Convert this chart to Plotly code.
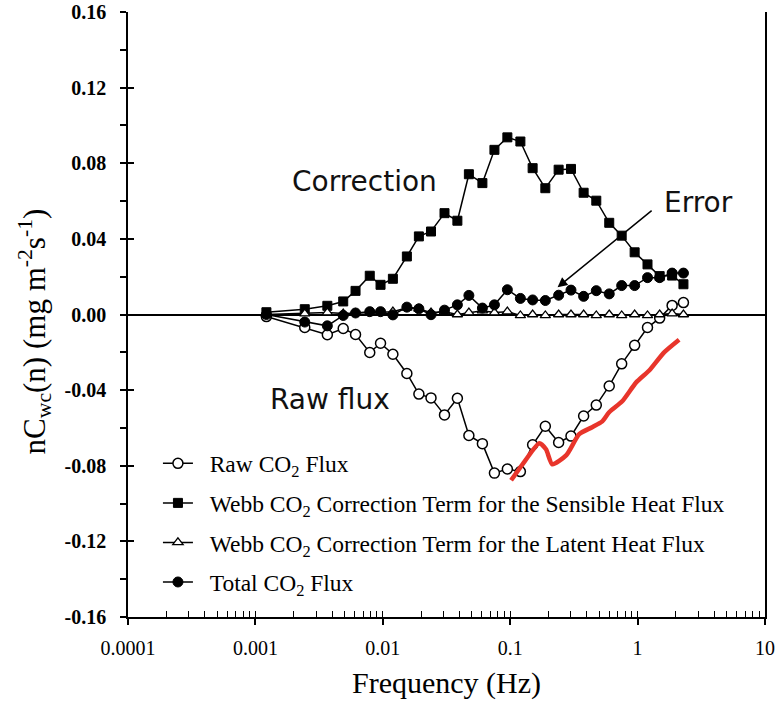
import plotly.graph_objects as go

# Frequency bins (Hz) shared by all four spectra
freq = [0.00122, 0.00244, 0.00367, 0.00489, 0.00611, 0.0079, 0.0096, 0.0120,
        0.01545, 0.0192, 0.0239, 0.0305, 0.0385, 0.0474, 0.0605, 0.0752,
        0.0950, 0.1202, 0.150, 0.1887, 0.240, 0.300, 0.377, 0.474,
        0.599, 0.750, 0.948, 1.196, 1.490, 1.866, 2.29]

# Frequency-weighted cospectra nCwc(n), mg m-2 s-1
raw_flux = [-0.0011, -0.0069, -0.0107, -0.0074, -0.0106, -0.0201, -0.0152, -0.0210,
            -0.0312, -0.0421, -0.0441, -0.0531, -0.0443, -0.0640, -0.0683, -0.0839,
            -0.0817, -0.0831, -0.0689, -0.0591, -0.0677, -0.0643, -0.0537, -0.0479,
            -0.0378, -0.0261, -0.0163, -0.0069, -0.0019, 0.0048, 0.0063]

webb_sensible = [0.0012, 0.0028, 0.0046, 0.0069, 0.0125, 0.0205, 0.0157, 0.0189,
                 0.0307, 0.0413, 0.0439, 0.0536, 0.0496, 0.0742, 0.0695, 0.0871,
                 0.0937, 0.0915, 0.0774, 0.0668, 0.0766, 0.0770, 0.0644, 0.0602,
                 0.0485, 0.0417, 0.0329, 0.0265, 0.0203, 0.0206, 0.0160]

webb_latent = [0.0000, 0.0005, 0.0010, 0.0005, 0.0008, 0.0010, 0.0012, 0.0015,
               0.0035, 0.0030, 0.0010, 0.0015, 0.0000, 0.0010, 0.0020, 0.0010,
               0.0015, -0.0005, 0.0000, -0.0005, 0.0000, 0.0000, 0.0000, -0.0005,
               0.0000, -0.0005, 0.0000, -0.0005, 0.0000, 0.0005, 0.0000]

total_flux = [0.0000, -0.0040, -0.0060, -0.0005, 0.0008, 0.0015, 0.0015, -0.0002,
              0.0039, 0.0030, -0.0001, 0.0023, 0.0051, 0.0101, 0.0034, 0.0051,
              0.0131, 0.0085, 0.0077, 0.0074, 0.0102, 0.0129, 0.0096, 0.0126,
              0.0109, 0.0153, 0.0153, 0.0195, 0.0195, 0.0219, 0.0219]

# Hand-drawn trend (red) under the raw flux at high frequency
red_freq = [0.1016, 0.1316, 0.1694, 0.191, 0.214, 0.276, 0.348, 0.440, 0.528,
            0.598, 0.757, 0.975, 1.233, 1.615, 2.117]
red_val = [-0.0877, -0.0771, -0.0681, -0.0713, -0.0792, -0.0744, -0.0633, -0.0596,
           -0.0565, -0.0517, -0.0459, -0.0359, -0.0296, -0.0200, -0.0133]

x_ticks = [0.0001, 0.001, 0.01, 0.1, 1, 10]
x_tick_text = ["0.0001", "0.001", "0.01", "0.1", "1", "10"]
y_major = [-0.16, -0.12, -0.08, -0.04, 0.0, 0.04, 0.08, 0.12, 0.16]

SERIF = "Liberation Serif"
SANS = "DejaVu Sans"
PAD = "\u00a0\u00a0"  # gap between legend symbol and its label

fig = go.Figure()

line_style = dict(color="black", width=1.5)

fig.add_trace(go.Scatter(
    x=freq, y=raw_flux, mode="lines+markers", name=PAD + "Raw CO<sub>2</sub> Flux",
    line=line_style, legendgroup="a",
    marker=dict(symbol="circle", size=10, color="white",
                line=dict(color="black", width=1.5))))
fig.add_trace(go.Scatter(
    x=freq, y=webb_sensible, mode="lines+markers",
    name=PAD + "Webb CO<sub>2</sub> Correction Term for the Sensible Heat Flux",
    line=line_style, legendgroup="b",
    marker=dict(symbol="square", size=9, color="black",
                line=dict(color="black", width=1))))
fig.add_trace(go.Scatter(
    x=freq, y=webb_latent, mode="lines+markers",
    name=PAD + "Webb CO<sub>2</sub> Correction Term for the Latent Heat Flux",
    line=line_style, legendgroup="c",
    marker=dict(symbol="triangle-up", size=9, color="white",
                line=dict(color="black", width=1.3))))
fig.add_trace(go.Scatter(
    x=freq, y=total_flux, mode="lines+markers", name=PAD + "Total CO<sub>2</sub> Flux",
    line=line_style, legendgroup="d",
    marker=dict(symbol="circle", size=10, color="black",
                line=dict(color="black", width=1))))
fig.add_trace(go.Scatter(
    x=red_freq, y=red_val, mode="lines", showlegend=False,
    line=dict(color="#e8352b", width=4.5, shape="spline", smoothing=0.6)))

# helper trace carrying the overlay axes used for inward ticks
fig.add_trace(go.Scatter(
    x=[0.0001, 10], y=[-0.16, 0.16], xaxis="x2", yaxis="y2", mode="markers",
    marker=dict(opacity=0), showlegend=False, hoverinfo="skip"))

x_minor = [m * 10 ** e for e in range(-4, 1) for m in range(1, 10)] + [10]

fig.update_layout(
    width=778, height=708,
    margin=dict(l=128, r=13, t=12, b=91, autoexpand=False),
    paper_bgcolor="white", plot_bgcolor="white",
    showlegend=True,
    legend=dict(
        x=0.047, y=0.29, xanchor="left", yanchor="top",
        bgcolor="rgba(0,0,0,0)", borderwidth=0,
        font=dict(family=SERIF, size=23.5, color="black"),
        itemwidth=30, tracegroupgap=6, traceorder="grouped"),
    xaxis=dict(
        type="log", range=[-4, 1], showgrid=False, zeroline=False, automargin=False,
        showline=True, linecolor="black", linewidth=1.5, mirror=False,
        tickvals=x_ticks, ticktext=x_tick_text, ticks="outside", ticklen=6,
        tickwidth=1.5, tickcolor="black", ticklabelstandoff=6,
        tickfont=dict(family=SERIF, size=20, color="black"),
        title=dict(text="Frequency (Hz)", standoff=14,
                   font=dict(family=SERIF, size=30, color="black"))),
    yaxis=dict(
        range=[-0.16, 0.16], showgrid=False, automargin=False,
        zeroline=True, zerolinecolor="black", zerolinewidth=1.5,
        showline=True, linecolor="black", linewidth=1.5, mirror=True,
        tickvals=[round(-0.16 + 0.02 * i, 2) for i in range(17)],
        ticktext=[("%.2f" % (-0.16 + 0.02 * i)) if i % 2 == 0 else "" for i in range(17)],
        ticks="outside", ticklen=6, tickwidth=1.5, tickcolor="black",
        ticklabelstandoff=10,
        tickfont=dict(family=SERIF, size=20, color="black", weight="bold")),
    xaxis2=dict(
        type="log", range=[-4, 1], overlaying="x", showgrid=False, zeroline=False,
        automargin=False,
        showline=False, tickvals=x_minor, ticks="inside", ticklen=6, tickwidth=1.3,
        tickcolor="black", showticklabels=False),
    yaxis2=dict(
        range=[-0.16, 0.16], overlaying="y", showgrid=False, zeroline=False,
        automargin=False,
        showline=False, tickvals=y_major, ticks="inside", ticklen=6, tickwidth=1.5,
        tickcolor="black", showticklabels=False),
    annotations=[
        # y-axis title, placed as rotated text beside the tick labels
        dict(x=-0.146, y=0.472, xref="paper", yref="paper", textangle=-90,
             text="nC<sub>wc</sub>(n) (mg m<sup>-2</sup>s<sup>-1</sup>)",
             showarrow=False, xanchor="center", yanchor="middle",
             font=dict(family=SERIF, size=31, color="black")),
        dict(x=-2.143, y=0.0705, xref="x", yref="y", text="Correction",
             showarrow=False, font=dict(family=SANS, size=28, color="#111")),
        dict(x=-2.417, y=-0.0447, xref="x", yref="y", text="Raw flux",
             showarrow=False, font=dict(family=SANS, size=28, color="#111")),
        dict(x=0.480, y=0.0594, xref="x", yref="y", text="Error",
             showarrow=False, font=dict(family=SANS, size=28, color="#111")),
        dict(x=-0.628, y=0.0144, xref="x", yref="y", ax=0.122, ay=0.0556,
             axref="x", ayref="y", text="", showarrow=True, arrowhead=2,
             arrowsize=1.3, arrowwidth=1.5, arrowcolor="black"),
    ],
)

fig.write_html("out.html")
